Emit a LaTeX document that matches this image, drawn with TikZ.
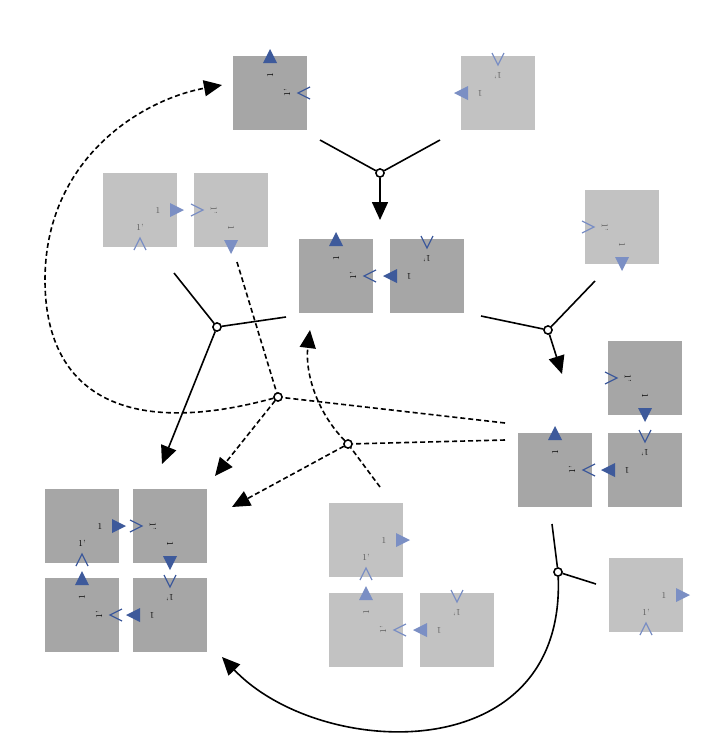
\documentclass[tikz,border=0pt]{standalone}
\usetikzlibrary{arrows.meta}
\definecolor{tdark}{HTML}{A6A6A6}
\definecolor{tlight}{HTML}{C2C2C2}
\definecolor{bdark}{HTML}{3E5A9B}
\definecolor{blight}{HTML}{7B8FC4}
\newcommand{\mytile}[6]{%
\begin{scope}[shift={(#1,#2)},rotate=#3,transform shape]
\fill[#4] (-37,-37) rectangle (37,37);
\fill[#5] (30,-7) -- (44,0) -- (30,7) -- cycle;
\draw[#5,line width=1.2pt] (-6,40) -- (0,28) -- (6,40);
\node[text=#6,font=\fontsize{9}{9}\selectfont,inner sep=0pt] at (18,0) {1};
\node[text=#6,font=\fontsize{9}{9}\selectfont,inner sep=0pt] at (0,17) {1'};
\end{scope}}
\tikzset{
 con/.style={line width=1.6pt},
 dcon/.style={line width=1.6pt,dash pattern=on 5pt off 3pt},
 arr/.style={-{Triangle[length=18pt,width=16pt]}},
 junc/.style={circle,draw,line width=1.4pt,fill=white,inner sep=0pt,minimum size=8pt},
}
\begin{document}
\begin{tikzpicture}[x=1pt,y=-1pt]
\useasboundingbox (0,0) rectangle (712,742);
% tiles
\mytile{270}{93}{90}{tdark}{bdark}{black}
\mytile{498}{93}{180}{tlight}{blight}{black!65}
\mytile{336}{276}{90}{tdark}{bdark}{black}
\mytile{427}{276}{180}{tdark}{bdark}{black}
\mytile{140}{210}{0}{tlight}{blight}{black!65}
\mytile{231}{210}{-90}{tlight}{blight}{black!65}
\mytile{622}{227}{-90}{tlight}{blight}{black!65}
\mytile{645}{378}{-90}{tdark}{bdark}{black}
\mytile{555}{470}{90}{tdark}{bdark}{black}
\mytile{645}{470}{180}{tdark}{bdark}{black}
\mytile{366}{540}{0}{tlight}{blight}{black!65}
\mytile{366}{630}{90}{tlight}{blight}{black!65}
\mytile{457}{630}{180}{tlight}{blight}{black!65}
\mytile{646}{595}{0}{tlight}{blight}{black!65}
\mytile{82}{526}{0}{tdark}{bdark}{black}
\mytile{170}{526}{-90}{tdark}{bdark}{black}
\mytile{82}{615}{90}{tdark}{bdark}{black}
\mytile{170}{615}{180}{tdark}{bdark}{black}
% junctions
\node[junc] (j1) at (380,173) {};
\node[junc] (j2) at (217,327) {};
\node[junc] (j3) at (548,330) {};
\node[junc] (j4) at (278,397) {};
\node[junc] (j5) at (348,444) {};
\node[junc] (j6) at (558,572) {};
% end points
\coordinate (a1) at (320,140); \coordinate (a2) at (440,140); \coordinate (t1) at (380,220);
\coordinate (b1) at (174,273); \coordinate (b2) at (286,317); \coordinate (t2) at (162,464);
\coordinate (c1) at (481,316); \coordinate (c2) at (595,281); \coordinate (t3) at (562,374);
\coordinate (d1) at (237,262); \coordinate (d2) at (505,423); \coordinate (t4) at (215,476); \coordinate (t4b) at (222,85);
\coordinate (e1) at (380,487); \coordinate (e2) at (505,440); \coordinate (t5) at (232,507); \coordinate (t5b) at (310,330);
\coordinate (f1) at (552,524); \coordinate (f2) at (596,584); \coordinate (t6) at (222,657);
% connectors
\draw[con] (a1) -- (j1); \draw[con] (a2) -- (j1); \draw[con,arr] (j1) -- (t1);
\draw[con] (b1) -- (j2); \draw[con] (b2) -- (j2); \draw[con,arr] (j2) -- (t2);
\draw[con] (c1) -- (j3); \draw[con] (c2) -- (j3); \draw[con,arr] (j3) -- (t3);
\draw[dcon] (d1) -- (j4); \draw[dcon] (d2) -- (j4); \draw[dcon,arr] (j4) -- (t4);
\draw[dcon,arr] (j4) .. controls (120,440) and (45,390) .. (45,280) .. controls (45,160) and (140,100) .. (t4b);
\draw[dcon] (e1) -- (j5); \draw[dcon] (e2) -- (j5); \draw[dcon,arr] (j5) -- (t5);
\draw[dcon,arr] (j5) .. controls (315,410) and (305,370) .. (t5b);
\draw[con] (f1) -- (j6); \draw[con] (f2) -- (j6);
\draw[con,arr] (j6) .. controls (566,770) and (320,760) .. (t6);
\node[junc] at (j1) {}; \node[junc] at (j2) {}; \node[junc] at (j3) {};
\node[junc] at (j4) {}; \node[junc] at (j5) {}; \node[junc] at (j6) {};
\end{tikzpicture}
\end{document}
